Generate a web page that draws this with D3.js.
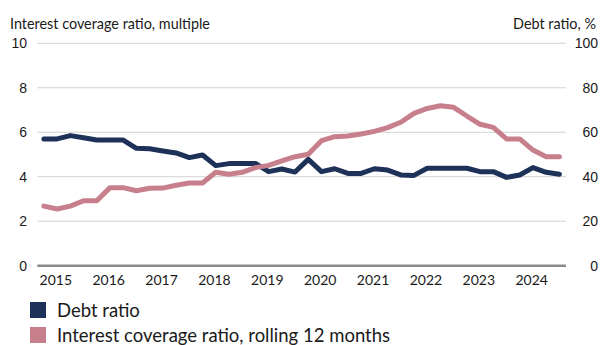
<!DOCTYPE html>
<html>
<head>
<meta charset="utf-8">
<script src="https://cdn.jsdelivr.net/npm/d3@7"></script>
<style>
  html, body { margin: 0; padding: 0; background: #fff; }
  svg { display: block; font-family: "Lato", "Open Sans", sans-serif; }
</style>
</head>
<body>
<svg id="chart" width="601" height="345"></svg>
<script>
// Quarterly observations, 2015 Q1 – 2024 Q4
const years = [2015, 2016, 2017, 2018, 2019, 2020, 2021, 2022, 2023, 2024];
const quarters = years.flatMap(y => [1, 2, 3, 4].map(q => `${y}Q${q}`));

// Debt ratio, per cent (right axis)
const debtRatio = [
  57.0, 57.0, 58.5, 57.5, 56.5, 56.5, 56.5, 52.8, 52.6, 51.6,
  50.7, 48.6, 49.8, 45.0, 45.9, 46.0, 46.0, 42.3, 43.5, 42.1,
  47.8, 42.3, 43.6, 41.5, 41.5, 43.6, 43.0, 40.8, 40.6, 43.8,
  43.8, 43.8, 43.8, 42.3, 42.3, 39.7, 40.8, 44.1, 42.0, 41.1
];

// Interest coverage ratio, rolling 12 months, multiple (left axis)
const interestCoverage = [
  2.68, 2.55, 2.68, 2.92, 2.92, 3.51, 3.51, 3.37, 3.48, 3.49,
  3.62, 3.72, 3.72, 4.20, 4.11, 4.20, 4.41, 4.51, 4.71, 4.90,
  5.01, 5.62, 5.80, 5.83, 5.92, 6.04, 6.21, 6.45, 6.85, 7.07,
  7.19, 7.12, 6.73, 6.36, 6.22, 5.70, 5.70, 5.20, 4.90, 4.90
];

const leftTicks = [0, 2, 4, 6, 8, 10];
const rightTicks = [0, 20, 40, 60, 80, 100];

const leftTitle = "Interest coverage ratio, multiple";
const rightTitle = "Debt ratio, %";
const seriesNames = ["Debt ratio", "Interest coverage ratio, rolling 12 months"];
const colors = { debt: "#1d3159", icr: "#c77f8b" };

const svg = d3.select("#chart");
const plot = { left: 37.3, right: 566, top: 43.3, bottom: 265.7 };

const x = d3.scaleBand().domain(quarters).range([plot.left, plot.right]);
const xc = q => x(q) + x.bandwidth() / 2;
const yL = d3.scaleLinear().domain([0, 10]).range([plot.bottom, plot.top]);
const yR = d3.scaleLinear().domain([0, 100]).range([plot.bottom, plot.top]);

// Horizontal gridlines
svg.append("g")
  .selectAll("line")
  .data(leftTicks.filter(t => t > 0))
  .join("line")
  .attr("x1", plot.left).attr("x2", plot.right)
  .attr("y1", d => yL(d)).attr("y2", d => yL(d))
  .attr("stroke", "#d2d2d2").attr("stroke-width", 1);

// Baseline
svg.append("line")
  .attr("x1", plot.left).attr("x2", plot.right)
  .attr("y1", yL(0)).attr("y2", yL(0))
  .attr("stroke", "#8a8a8a").attr("stroke-width", 2.5);

// Left axis labels
const leftAxis = d3.axisLeft(yL).tickValues(leftTicks).tickSize(0).tickPadding(0);
svg.append("g")
  .attr("transform", `translate(27,0)`)
  .call(leftAxis)
  .call(g => g.select(".domain").remove())
  .call(g => g.selectAll("text")
    .attr("fill", "#1a1a1a").attr("font-size", 14).attr("font-family", null));

// Right axis labels
const rightAxis = d3.axisRight(yR).tickValues(rightTicks).tickSize(0).tickPadding(0);
svg.append("g")
  .attr("transform", `translate(598,0)`)
  .call(rightAxis)
  .call(g => g.select(".domain").remove())
  .call(g => g.selectAll("text")
    .attr("fill", "#1a1a1a").attr("font-size", 14).attr("font-family", null)
    .attr("text-anchor", "end"));

// Year labels under the axis
svg.append("g")
  .selectAll("text")
  .data(years)
  .join("text")
  .attr("x", d => x(`${d}Q2`) + x.bandwidth() * 0.4)
  .attr("y", 284.5)
  .attr("text-anchor", "middle")
  .attr("font-size", 14)
  .attr("fill", "#1a1a1a")
  .text(d => d);

// Axis titles
svg.append("text")
  .attr("x", 10).attr("y", 29.3)
  .attr("font-size", 14.4).attr("fill", "#1a1a1a")
  .text(leftTitle);
svg.append("text")
  .attr("x", 596).attr("y", 29.3)
  .attr("text-anchor", "end")
  .attr("font-size", 14.4).attr("fill", "#1a1a1a")
  .text(rightTitle);

// Lines
const lineDebt = d3.line()
  .x((d, i) => xc(quarters[i]))
  .y(d => yR(d));
const lineIcr = d3.line()
  .x((d, i) => xc(quarters[i]))
  .y(d => yL(d));

svg.append("path")
  .datum(debtRatio)
  .attr("d", lineDebt)
  .attr("fill", "none")
  .attr("stroke", colors.debt)
  .attr("stroke-width", 5)
  .attr("stroke-linejoin", "round")
  .attr("stroke-linecap", "round");

svg.append("path")
  .datum(interestCoverage)
  .attr("d", lineIcr)
  .attr("fill", "none")
  .attr("stroke", colors.icr)
  .attr("stroke-width", 5)
  .attr("stroke-linejoin", "round")
  .attr("stroke-linecap", "round");

// Legend
const legend = svg.append("g");
const legendItems = [
  { name: seriesNames[0], color: colors.debt },
  { name: seriesNames[1], color: colors.icr }
];
legendItems.forEach((item, i) => {
  const y0 = 302 + i * 25;
  legend.append("rect")
    .attr("x", 30).attr("y", y0)
    .attr("width", 16).attr("height", 16)
    .attr("fill", item.color);
  legend.append("text")
    .attr("x", 57).attr("y", y0 + 15)
    .attr("font-size", 18.5).attr("fill", "#1a1a1a")
    .text(item.name);
});
</script>
</body>
</html>
